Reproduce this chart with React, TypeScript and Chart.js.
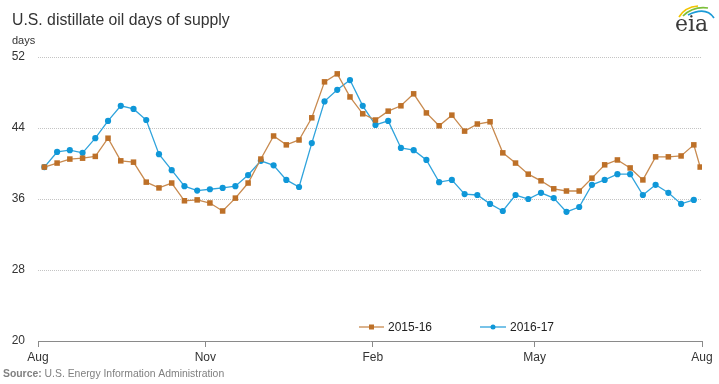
import React, { useEffect, useRef } from "react";
import { Chart, registerables } from "chart.js";

Chart.register(...registerables);

// Days after Aug 1 for each weekly observation
const weekDays = [
  3.5, 10.5, 17.5, 24.5, 31.5, 38.5, 45.5, 52.5, 59.5, 66.5, 73.5, 80.5, 87.5,
  94.5, 101.5, 108.5, 115.5, 122.5, 129.5, 136.5, 143.5, 150.5, 157.5, 164.5,
  171.5, 178.5, 185.5, 192.5, 199.5, 206.5, 213.5, 220.5, 227.5, 234.5, 241.5,
  248.5, 255.5, 262.5, 269.5, 276.5, 283.5, 290.5, 297.5, 304.5, 311.5, 318.5,
  325.5, 332.5, 339.5, 346.5, 353.5, 360.5, 364,
];

const series1516 = [
  39.6, 40.05, 40.5, 40.6, 40.8, 42.85, 40.3, 40.15, 37.9, 37.25, 37.8, 35.8,
  35.9, 35.55, 34.65, 36.1, 37.8, 40.5, 43.1, 42.1, 42.65, 45.15, 49.2, 50.1,
  47.5, 45.6, 44.9, 45.9, 46.5, 47.85, 45.7, 44.25, 45.45, 43.65, 44.45, 44.7,
  41.2, 40.05, 38.8, 38.05, 37.15, 36.9, 36.9, 38.35, 39.85, 40.4, 39.5, 38.15,
  40.75, 40.75, 40.85, 42.1, 39.6,
];

const series1617 = [
  39.6, 41.3, 41.5, 41.2, 42.85, 44.8, 46.5, 46.15, 44.9, 41.05, 39.25, 37.45,
  36.95, 37.1, 37.25, 37.45, 38.7, 40.3, 39.8, 38.15, 37.35, 42.3, 47.0, 48.3,
  49.4, 46.5, 44.35, 44.8, 41.75, 41.5, 40.4, 37.9, 38.15, 36.55, 36.45, 35.45,
  34.65, 36.45, 36.0, 36.7, 36.1, 34.55, 35.1, 37.6, 38.15, 38.8, 38.8, 36.45,
  37.6, 36.7, 35.45, 35.9,
];

const seriesNames = ["2015-16", "2016-17"];
const seriesColors = ["#bd7028", "#0f97d8"];
const lineColors = ["#c88a4f", "#2fa3dc"];

const monthTickDays = [0, 92, 184, 273, 365];
const monthTickLabels = ["Aug", "Nov", "Feb", "May", "Aug"];

const yMin = 20;
const yMax = 52;
const yStep = 8;

const FONT = "Arial, 'Liberation Sans', sans-serif";

const decorPlugin = {
  id: "decor",
  afterDraw(chart: any) {
    const ctx = chart.ctx as CanvasRenderingContext2D;
    ctx.save();
    // Title
    ctx.fillStyle = "#333333";
    ctx.textBaseline = "alphabetic";
    ctx.textAlign = "left";
    ctx.font = `15.8px ${FONT}`;
    ctx.fillText("U.S. distillate oil days of supply", 12, 25);
    ctx.font = `11px ${FONT}`;
    ctx.fillText("days", 12, 44);

    // Source
    ctx.fillStyle = "#808080";
    ctx.font = `bold 10.4px ${FONT}`;
    ctx.textBaseline = "middle";
    ctx.fillText("Source:", 3, 374);
    const w = ctx.measureText("Source:").width;
    ctx.font = `10.4px ${FONT}`;
    ctx.fillText(" U.S. Energy Information Administration", 3 + w, 374);

    // Legend
    const legendItems = [
      { x: 359, lineW: 25 },
      { x: 480, lineW: 26 },
    ];
    const ly = 327;
    chart.data.datasets.forEach((ds: any, i: number) => {
      const it = legendItems[i];
      ctx.strokeStyle = ds.borderColor;
      ctx.lineWidth = 1.3;
      ctx.beginPath();
      ctx.moveTo(it.x, ly);
      ctx.lineTo(it.x + it.lineW, ly);
      ctx.stroke();
      ctx.fillStyle = ds.pointBackgroundColor;
      const cx = it.x + it.lineW / 2;
      if (ds.pointStyle === "rect") {
        ctx.fillRect(cx - 2.5, ly - 2.5, 5, 5);
      } else {
        ctx.beginPath();
        ctx.arc(cx, ly, 2.5, 0, Math.PI * 2);
        ctx.fill();
      }
      ctx.fillStyle = "#222222";
      ctx.font = `12px ${FONT}`;
      ctx.textBaseline = "middle";
      ctx.fillText(ds.label, it.x + it.lineW + 4, ly + 0.5);
    });

    // EIA logo
    ctx.fillStyle = "#3a3a3a";
    ctx.font = `22px 'DejaVu Serif', serif`;
    ctx.textBaseline = "alphabetic";
    ctx.fillText("eia", 675, 31);
    const arcs = [
      { c: "#f2c500", x0: 679, y0: 17, cx: 685, cy: 7, x1: 698, y1: 6 },
      { c: "#7cbf3a", x0: 683, y0: 16, cx: 693, cy: 6, x1: 708, y1: 8 },
      { c: "#1a9ad6", x0: 688, y0: 15, cx: 706, cy: 6, x1: 714, y1: 18 },
    ];
    arcs.forEach((a) => {
      ctx.strokeStyle = a.c;
      ctx.lineWidth = 1.7;
      ctx.beginPath();
      ctx.moveTo(a.x0, a.y0);
      ctx.quadraticCurveTo(a.cx, a.cy, a.x1, a.y1);
      ctx.stroke();
    });
    ctx.restore();
  },
};

export default function App() {
  const canvasRef = useRef<HTMLCanvasElement | null>(null);

  useEffect(() => {
    document.body.style.margin = "0";
    const canvas = canvasRef.current;
    if (!canvas) return;

    const toPoints = (vals: number[]) =>
      vals.map((v, i) => ({ x: weekDays[i], y: v }));

    const chart = new Chart(canvas, {
      type: "line",
      data: {
        datasets: [
          {
            label: seriesNames[0],
            data: toPoints(series1516),
            borderColor: lineColors[0],
            backgroundColor: seriesColors[0],
            pointBackgroundColor: seriesColors[0],
            pointBorderWidth: 0,
            pointStyle: "rect",
            pointRadius: 3.9,
            borderWidth: 1.3,
            tension: 0,
          },
          {
            label: seriesNames[1],
            data: toPoints(series1617),
            borderColor: lineColors[1],
            backgroundColor: seriesColors[1],
            pointBackgroundColor: seriesColors[1],
            pointBorderWidth: 0,
            pointStyle: "circle",
            pointRadius: 3.1,
            borderWidth: 1.3,
            tension: 0,
          },
        ],
      },
      options: {
        animation: false,
        responsive: false,
        maintainAspectRatio: false,
        layout: { padding: { left: 12, right: 17, top: 57, bottom: 0 } },
        plugins: {
          legend: { display: false },
          tooltip: { enabled: false },
        },
        scales: {
          x: {
            type: "linear",
            min: monthTickDays[0],
            max: monthTickDays[monthTickDays.length - 1],
            afterBuildTicks: (scale: any) => {
              scale.ticks = monthTickDays.map((v) => ({ value: v }));
            },
            afterFit: (scale: any) => {
              scale.height = 43;
            },
            ticks: {
              autoSkip: false,
              maxRotation: 0,
              padding: 3,
              color: "#333333",
              font: { family: FONT, size: 12 },
              callback: (_v: any, i: number) => monthTickLabels[i],
            },
            grid: {
              drawOnChartArea: false,
              drawTicks: true,
              tickLength: 6,
              color: "#8a8a8a",
            },
            border: { display: true, color: "#8a8a8a", width: 1 },
          },
          y: {
            min: yMin,
            max: yMax,
            afterFit: (scale: any) => {
              scale.width = 26;
            },
            ticks: {
              stepSize: yStep,
              padding: 13,
              color: "#333333",
              font: { family: FONT, size: 12 },
            },
            grid: {
              drawTicks: false,
              color: (c: any) =>
                c.tick && c.tick.value === yMin ? "rgba(0,0,0,0)" : "#c4c4c4",
              lineWidth: 1,
            },
            border: { display: false, dash: [1, 1] },
          },
        },
      },
      plugins: [decorPlugin],
    });

    return () => chart.destroy();
  }, []);

  return (
    <div style={{ width: 719, height: 384 }}>
      <canvas ref={canvasRef} width={719} height={384} style={{ display: "block" }} />
    </div>
  );
}
